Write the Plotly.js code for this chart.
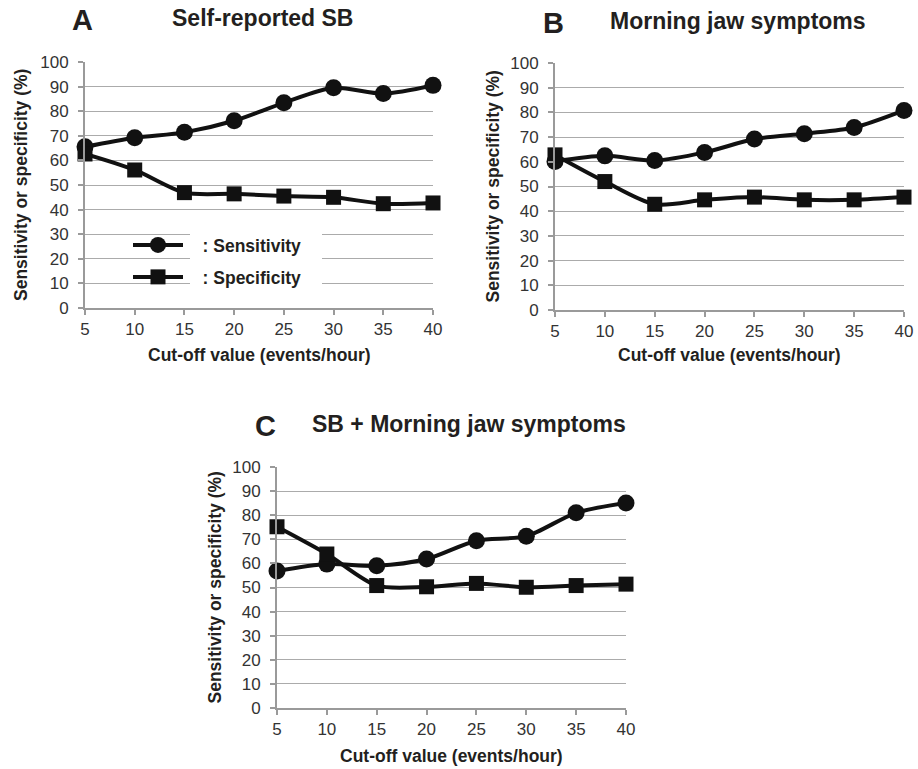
<!DOCTYPE html>
<html>
<head>
<meta charset="utf-8">
<script src="https://cdn.plot.ly/plotly-3.0.1.min.js"></script>
<style>html,body{margin:0;padding:0;background:#fff;}#chart{width:918px;height:769px;}</style>
</head>
<body>
<div id="chart"></div>
<script>
// ---- data ----
const cutoffs = [5, 10, 15, 20, 25, 30, 35, 40];
const yTicks = [0, 10, 20, 30, 40, 50, 60, 70, 80, 90, 100];
const sensA = [65.5, 69.2, 71.4, 76.1, 83.4, 89.5, 87.2, 90.5];
const specA = [62.6, 56.1, 46.9, 46.4, 45.5, 45.0, 42.4, 42.7];
const sensB = [60.1, 62.4, 60.5, 63.8, 69.2, 71.4, 73.9, 80.8];
const specB = [62.8, 52.0, 42.8, 44.6, 45.7, 44.6, 44.6, 45.7];
const sensC = [56.8, 59.7, 59.0, 61.8, 69.4, 71.3, 81.0, 85.1];
const specC = [75.2, 63.9, 50.8, 50.3, 51.7, 50.1, 50.8, 51.4];
const panelLetters = ['A', 'B', 'C'];
const panelTitles = ['Self-reported SB', 'Morning jaw symptoms', 'SB + Morning jaw symptoms'];
const seriesNames = [': Sensitivity', ': Specificity'];
const xTitle = 'Cut-off value (events/hour)';
const yTitle = 'Sensitivity or specificity (%)';

// ---- layout helpers ----
const W = 918, H = 769;
const px = v => v / W;
const py = v => 1 - v / H;
const FONT = '"Liberation Sans", Arial, Helvetica, sans-serif';
const TXT = '#231f20';
const GRID = '#ababab';
const AXIS = '#9a9a9a';

// plot boxes in pixels: [left, right, top, bottom]
const boxes = [[85, 433, 62, 308], [555, 904, 63, 310], [277, 626, 467, 708]];

const lineStyle = {color: '#111', width: 4, shape: 'spline', smoothing: 0.8};
function mkTrace(y, i, kind) {
  const sfx = i === 0 ? '' : String(i + 1);
  const t = {
    type: 'scatter', mode: 'lines+markers', x: cutoffs, y: y,
    xaxis: 'x' + sfx, yaxis: 'y' + sfx, cliponaxis: false,
    name: '\u00a0\u00a0\u00a0' + seriesNames[kind], line: lineStyle,
    marker: kind === 0 ? {symbol: 'circle', size: 17, color: '#111'} : {symbol: 'square', size: 15, color: '#111'},
    showlegend: i === 0, hoverinfo: 'x+y'
  };
  if (i === 0 && kind === 1) t.legend = 'legend2';
  return t;
}
const data = [
  mkTrace(sensA, 0, 0), mkTrace(specA, 0, 1),
  mkTrace(sensB, 1, 0), mkTrace(specB, 1, 1),
  mkTrace(sensC, 2, 0), mkTrace(specC, 2, 1)
];

const layout = {
  width: W, height: H, margin: {l: 0, r: 0, t: 0, b: 0},
  paper_bgcolor: '#fff', plot_bgcolor: 'rgba(0,0,0,0)',
  font: {family: FONT, color: TXT},
  annotations: [], shapes: []
};

boxes.forEach((b, i) => {
  const sfx = i === 0 ? '' : String(i + 1);
  layout['xaxis' + sfx] = {
    domain: [px(b[0]), px(b[1])], range: [5, 40], anchor: 'y' + sfx,
    tickmode: 'array', tickvals: cutoffs, ticktext: cutoffs.map(String),
    showgrid: false, zeroline: false, showline: true, linecolor: AXIS, linewidth: 2,
    ticks: 'outside', ticklen: 5, tickcolor: AXIS, tickwidth: 1.5,
    tickfont: {size: 17, color: '#333', family: FONT}, fixedrange: true
  };
  layout['yaxis' + sfx] = {
    domain: [py(b[3]), py(b[2])], range: [0, 100], anchor: 'x' + sfx,
    tickmode: 'array', tickvals: yTicks, ticktext: yTicks.map(String),
    showgrid: true, gridcolor: GRID, gridwidth: 1, zeroline: false,
    showline: true, linecolor: AXIS, linewidth: 2,
    ticks: 'outside', ticklen: 5, tickcolor: AXIS, tickwidth: 1.5,
    ticklabelstandoff: 6,
    tickfont: {size: 17, color: '#333', family: FONT}, fixedrange: true
  };
});

// panel letters and titles
const letterPos = [[82, 20], [553, 23], [265, 426]];
const titlePos = [[262, 18], [738, 21], [469, 424]];
panelLetters.forEach((l, i) => {
  layout.annotations.push({text: '<b>' + l + '</b>', xref: 'paper', yref: 'paper',
    x: px(letterPos[i][0]), y: py(letterPos[i][1]), xanchor: 'center', yanchor: 'middle',
    showarrow: false, font: {size: 29, color: TXT, family: FONT}});
  layout.annotations.push({text: '<b>' + panelTitles[i] + '</b>', xref: 'paper', yref: 'paper',
    x: px(titlePos[i][0]), y: py(titlePos[i][1]), xanchor: 'center', yanchor: 'middle',
    showarrow: false, font: {size: 23, color: TXT, family: FONT}});
});
// axis titles
const xTitleY = [355, 355, 756];
const yTitleX = [21, 493, 214];
boxes.forEach((b, i) => {
  layout.annotations.push({text: '<b>' + xTitle + '</b>', xref: 'paper', yref: 'paper',
    x: px((b[0] + b[1]) / 2), y: py(xTitleY[i]), xanchor: 'center', yanchor: 'middle',
    showarrow: false, font: {size: 17.5, color: TXT, family: FONT}});
  layout.annotations.push({text: '<b>' + yTitle + '</b>', xref: 'paper', yref: 'paper',
    x: px(yTitleX[i]), y: py((b[2] + b[3]) / 2), xanchor: 'center', yanchor: 'middle',
    textangle: -90, showarrow: false, font: {size: 17.5, color: TXT, family: FONT}});
});

// white box behind legend text in panel A
layout.shapes.push({type: 'rect', xref: 'paper', yref: 'paper', layer: 'above',
  x0: px(190), x1: px(322), y0: py(291), y1: py(228),
  fillcolor: '#ffffff', opacity: 1, line: {width: 0}});

const legBase = {xref: 'paper', yref: 'paper', xanchor: 'left', yanchor: 'middle',
  bgcolor: 'rgba(0,0,0,0)', borderwidth: 0, itemwidth: 50,
  font: {size: 17.5, color: TXT, family: FONT, weight: 'bold'}, itemclick: false, itemdoubleclick: false};
layout.legend = Object.assign({}, legBase, {x: px(128), y: py(245)});
layout.legend2 = Object.assign({}, legBase, {x: px(128), y: py(277)});

Plotly.newPlot('chart', data, layout, {displayModeBar: false});
</script>
</body>
</html>
